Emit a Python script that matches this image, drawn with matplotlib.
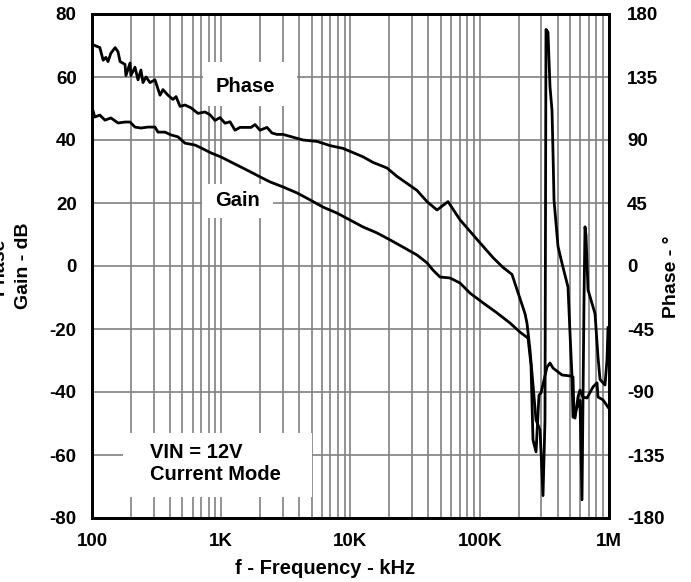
import numpy as np
import matplotlib.pyplot as plt
from matplotlib.ticker import LogLocator, NullFormatter, FixedLocator
from matplotlib.patches import Rectangle

plt.rcParams['font.family'] = ['Liberation Sans', 'DejaVu Sans']
plt.rcParams['font.weight'] = 'bold'
plt.rcParams['axes.unicode_minus'] = False

# gain curve, frequency in Hz and gain in dB
gain_freq = [100, 105, 115, 126, 140, 159, 180, 197, 215, 239, 271, 307, 324, 367,
             409, 463, 524, 627, 697, 833, 996, 1190, 1422, 1699, 1994, 2384, 3004,
             3855, 4862, 6127, 7863, 9911, 12496, 16032, 20210, 25480, 32690, 39070,
             43480, 49260, 58880, 70360, 84040, 106000, 136000, 171400, 204900,
             236300, 249200, 258200, 272500, 287300, 297800, 331400, 349600, 368800,
             432800, 499200, 526600, 536100, 545800, 575600, 596500, 629300, 675700,
             752000, 807600, 822100, 898600, 982400]
gain_db = [50.5, 47.3, 47.9, 46.3, 47.0, 45.4, 45.7, 45.7, 44.1, 43.8, 44.1, 44.1, 42.5,
           42.5, 41.6, 41.0, 39.0, 38.4, 37.5, 35.9, 34.6, 33.0, 31.4, 29.8, 28.3, 26.7,
           25.1, 23.2, 21.0, 18.7, 16.8, 14.6, 12.4, 10.5, 8.3, 6.0, 3.5, 1.0, -1.3,
           -3.5, -3.8, -5.4, -8.6, -11.7, -14.9, -18.1, -21.0, -22.9, -31.4, -55.2,
           -59.0, -41.0, -40.3, -32.1, -30.8, -32.4, -34.6, -34.9, -35.2, -47.9, -48.3,
           -41.6, -39.4, -41.6, -41.9, -38.4, -37.1, -41.6, -42.5, -44.8]

# phase curve, frequency in Hz and phase in degrees
phase_freq = [100, 102, 115, 122, 128, 133, 140, 151, 159, 165, 180, 183, 197, 200, 215,
              227, 239, 248, 262, 281, 307, 336, 354, 387, 423, 447, 480, 524, 583, 661,
              749, 819, 895, 978, 1069, 1169, 1278, 1397, 1527, 1699, 1825, 1994, 2259,
              2470, 2700, 3004, 3590, 4291, 5507, 6940, 8750, 10460, 12496, 14935,
              19160, 22890, 27360, 32690, 39070, 46690, 56810, 70360, 95210, 126600,
              151300, 177600, 197700, 223900, 232100, 244800, 272500, 292600, 308600,
              319700, 325400, 337300, 349600, 362300, 368800, 375500, 403200, 432800,
              481700, 499200, 517300, 526600, 555500, 596500, 618200, 640600, 652100,
              663800, 687900, 779300, 822100, 851900, 931200, 965000, 982400]
phase_deg = [154, 158, 156, 147, 149, 146, 152, 156, 153, 146, 144, 136, 145, 136, 142,
             133, 140, 131, 135, 131, 133, 122, 126, 122, 119, 121, 114, 115, 113, 109,
             110, 108, 104, 106, 102, 103, 97, 99, 99, 99, 101, 97, 99, 95, 94, 94, 92,
             90, 89, 86, 84, 81, 78, 74, 70, 64, 59, 54, 46, 40, 46, 33, 19, 6, -1, -6,
             -19, -34, -41, -60, -110, -117, -164, -110, 169, 167, 128, 111, 81, 47, 14,
             2, -15, -48, -79, -108, -103, -96, -167, -24, 28, 22, -17, -34, -65, -81,
             -85, -67, -44]

gain_ticks = [-80, -60, -40, -20, 0, 20, 40, 60, 80]
phase_ticks = [-180, -135, -90, -45, 0, 45, 90, 135, 180]
freq_ticks = [100, 1e3, 1e4, 1e5, 1e6]
freq_labels = ['100', '1K', '10K', '100K', '1M']

fig = plt.figure(figsize=(6.91, 5.82), dpi=100)
ax = fig.add_axes([92 / 691, 1 - 518 / 582, 517 / 691, 504 / 582])
ax.set_xscale('log')
ax.set_xlim(100, 1e6)
ax.set_ylim(-80, 80)
ax.xaxis.set_major_locator(FixedLocator(freq_ticks))
ax.set_xticklabels(freq_labels)
ax.xaxis.set_minor_locator(LogLocator(base=10, subs=np.arange(2, 10)))
ax.xaxis.set_minor_formatter(NullFormatter())
ax.set_yticks(gain_ticks)

grid_color = '#808080'
ax.grid(which='both', axis='x', color=grid_color, lw=1.2)
ax.grid(which='major', axis='y', color=grid_color, lw=1.2)

ax.tick_params(which='both', length=0, labelsize=13.5)
ax.tick_params(axis='y', pad=11)
ax.tick_params(axis='x', pad=11)

ax.plot(gain_freq, gain_db, color='black', lw=2, zorder=3)

# white label boxes over the grid
def label_box(x0, y0, x1, y1):
    ax.add_patch(Rectangle(((x0 - 92) / 517, (518 - y1) / 504),
                           (x1 - x0) / 517, (y1 - y0) / 504,
                           transform=ax.transAxes, facecolor='white',
                           edgecolor='none', zorder=1.8))

label_box(203, 62, 297, 106)
label_box(202, 184, 273, 218)
label_box(123, 433, 312, 497)

ax.text((245 - 92) / 517, (518 - 86) / 504, 'Phase', transform=ax.transAxes,
        ha='center', va='center', fontsize=14.5, fontweight='bold', zorder=4)
ax.text((238 - 92) / 517, (518 - 200) / 504, 'Gain', transform=ax.transAxes,
        ha='center', va='center', fontsize=14.5, fontweight='bold', zorder=4)
ax.text((150 - 92) / 517, (518 - 464) / 504, 'VIN = 12V\nCurrent Mode',
        transform=ax.transAxes, ha='left', va='center', fontsize=14.5,
        fontweight='bold', linespacing=1.2, zorder=4)

ax2 = ax.twinx()
ax2.set_ylim(-180, 180)
ax2.set_yticks(phase_ticks)
ax2.tick_params(length=0, labelsize=13.5, pad=13)
ax2.plot(phase_freq, phase_deg, color='black', lw=2, zorder=3)

for a in (ax, ax2):
    for s in a.spines.values():
        s.set_linewidth(2)
        s.set_color('black')

fig.text(235 / 691, 1 - 568 / 582, 'f - Frequency - kHz', ha='left', va='center',
         fontsize=14.5, fontweight='bold')
fig.text(24 / 691, 1 - 266 / 582, 'Gain - dB', rotation=90, ha='center', va='center',
         fontsize=14, fontweight='bold')
fig.text(-1 / 691, 1 - 266 / 582, 'Phase', rotation=90, ha='center', va='center',
         fontsize=14, fontweight='bold')
fig.text(672 / 691, 1 - 277 / 582, 'Phase - °', rotation=90, ha='center', va='center',
         fontsize=14, fontweight='bold')

fig.savefig('out.png', dpi=100)
